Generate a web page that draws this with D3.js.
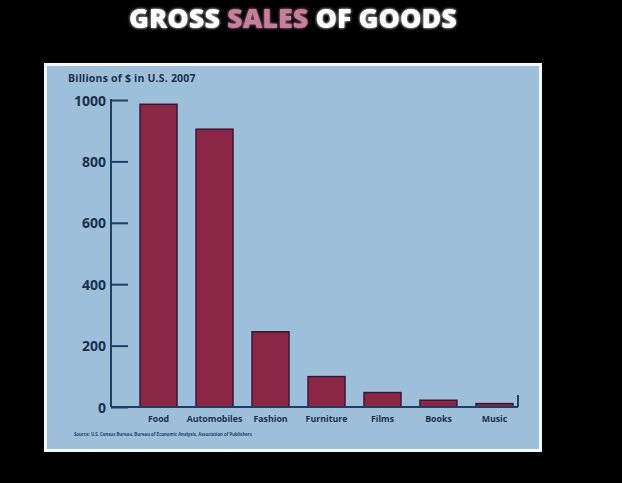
<!DOCTYPE html>
<html>
<head>
<meta charset="utf-8">
<title>Gross Sales of Goods</title>
<script src="https://cdn.jsdelivr.net/npm/d3@7"></script>
<style>
  body { margin: 0; background: #000; }
  .title { font-family: "Open Sans", sans-serif; font-weight: 800; font-size: 27px; fill: #fff; }
  .axis text { font-family: "Open Sans", sans-serif; font-weight: 700; fill: #1b2f4d; }
  .axis path, .axis line { stroke: #1d3f63; stroke-width: 2; }
</style>
</head>
<body>
<script>
// data
var categories = ["Food", "Automobiles", "Fashion", "Furniture", "Films", "Books", "Music"];
var sales = [986, 905, 245, 99, 47, 22, 11];
var yTicks = [0, 200, 400, 600, 800, 1000];

var W = 622, H = 483;
var svg = d3.select("body").append("svg").attr("width", W).attr("height", H);

svg.append("rect").attr("width", W).attr("height", H).attr("fill", "#000");

// glow for the title
var defs = svg.append("defs");
var glow = defs.append("filter").attr("id", "glow").attr("x", "-10%").attr("y", "-30%").attr("width", "120%").attr("height", "160%");
glow.append("feGaussianBlur").attr("stdDeviation", 1.6).attr("result", "b");
var m = glow.append("feMerge");
m.append("feMergeNode").attr("in", "b");
m.append("feMergeNode").attr("in", "SourceGraphic");

var t = svg.append("text").attr("class", "title")
  .attr("x", 293).attr("y", 28).attr("text-anchor", "middle")
  .attr("filter", "url(#glow)");
t.append("tspan").text("GROSS ");
t.append("tspan").attr("fill", "#c5819a").text("SALES");
t.append("tspan").text(" OF GOODS");

// panel
svg.append("rect").attr("x", 44).attr("y", 63).attr("width", 498).attr("height", 389)
  .attr("fill", "#f4f8fb");
svg.append("rect").attr("x", 47).attr("y", 66).attr("width", 492).attr("height", 383)
  .attr("fill", "#9ebfd9");

var x = d3.scaleBand().domain(categories).range([135, 518]).paddingInner(0.34).paddingOuter(0.09);
var y = d3.scaleLinear().domain([0, 1000]).range([407, 100]);
var axisX = 111;

// bars
svg.selectAll(".bar").data(sales).enter().append("rect")
  .attr("class", "bar")
  .attr("x", function(d, i) { return x(categories[i]); })
  .attr("y", function(d) { return y(d); })
  .attr("width", x.bandwidth())
  .attr("height", function(d) { return y(0) - y(d); })
  .attr("fill", "#8a2746")
  .attr("stroke", "#3b1634")
  .attr("stroke-width", 1.5);

// y axis
var gy = svg.append("g").attr("class", "axis").attr("transform", "translate(" + axisX + ",0)")
  .call(d3.axisLeft(y).tickValues(yTicks).tickFormat(d3.format("d"))
    .tickSize(-17).tickSizeOuter(0).tickPadding(5));
gy.selectAll("text").attr("font-size", 14).attr("dy", "0.36em");
gy.select(".domain").remove();
gy.append("line").attr("x1", 0).attr("x2", 0).attr("y1", y(1000) - 1).attr("y2", y(0))
  .attr("stroke", "#1d3f63").attr("stroke-width", 2);

// x axis
var gx = svg.append("g").attr("class", "axis").attr("transform", "translate(0," + y(0) + ")")
  .call(d3.axisBottom(x).tickSize(0).tickPadding(9));
gx.select(".domain").remove();
gx.selectAll("text").attr("font-size", 8.8);
gx.append("line").attr("x1", axisX).attr("x2", x.range()[1]).attr("y1", 0).attr("y2", 0)
  .attr("stroke", "#1d3f63").attr("stroke-width", 2);
gx.append("line").attr("x1", x.range()[1]).attr("x2", x.range()[1]).attr("y1", 0).attr("y2", -12)
  .attr("stroke", "#1d3f63").attr("stroke-width", 1.5);

// axis title + source
svg.append("text").attr("x", 68).attr("y", 82)
  .attr("font-family", "Open Sans, sans-serif").attr("font-weight", 700).attr("font-size", 10.5)
  .attr("fill", "#1b2f4d").attr("letter-spacing", 0.2)
  .text("Billions of $ in U.S. 2007");

svg.append("text").attr("x", 74).attr("y", 436)
  .attr("font-family", "Open Sans, sans-serif").attr("font-weight", 700).attr("font-size", 4.3)
  .attr("fill", "#1f3f6a")
  .text("Source: U.S. Census Bureau, Bureau of Economic Analysis, Association of Publishers");
</script>
</body>
</html>
